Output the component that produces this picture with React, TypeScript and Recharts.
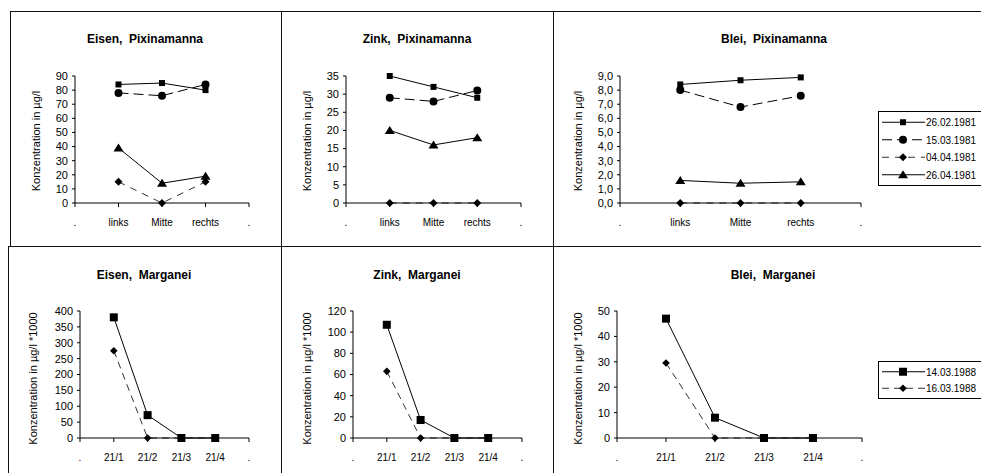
import React from 'react';
import { LineChart, Line, XAxis, YAxis, Legend } from 'recharts';

const topCategories = ['.', 'links', 'Mitte', 'rechts', '.'];
const topDates = ['26.02.1981', '15.03.1981', '04.04.1981', '26.04.1981'];
const eisenPixinamanna = [[84, 85, 80], [78, 76, 84], [15, 0, 15], [39, 14, 19]];
const zinkPixinamanna = [[35, 32, 29], [29, 28, 31], [0, 0, 0], [20, 16, 18]];
const bleiPixinamanna = [[8.4, 8.7, 8.9], [8.0, 6.8, 7.6], [0, 0, 0], [1.6, 1.4, 1.5]];

const bottomCategories = ['.', '21/1', '21/2', '21/3', '21/4', '.'];
const bottomDates = ['14.03.1988', '16.03.1988'];
const eisenMarganei = [[380, 72, 0, 0], [275, 0, 0, 0]];
const zinkMarganei = [[107, 17, 0, 0], [63, 0, 0, 0]];
const bleiMarganei = [[47, 8, 0, 0], [29.5, 0, 0, 0]];

type Style = { shape: string; size: number; dash?: string; stroke: string };

const topStyles: Style[] = [
  { shape: 'square', size: 6, stroke: '#000' },
  { shape: 'circle', size: 4, dash: '10 5', stroke: '#000' },
  { shape: 'diamond', size: 4, dash: '7 6', stroke: '#333' },
  { shape: 'triangle', size: 5, stroke: '#000' },
];
const bottomStyles: Style[] = [
  { shape: 'square', size: 8, stroke: '#000' },
  { shape: 'diamond', size: 3.8, dash: '7 5', stroke: '#333' },
];

const FONT = '"Liberation Sans", Arial, sans-serif';

function drawMarker(shape: string, size: number, cx: number, cy: number, key?: any) {
  if (shape === 'square') {
    return <rect key={key} x={cx - size / 2} y={cy - size / 2} width={size} height={size} fill="#000" />;
  }
  if (shape === 'circle') {
    return <circle key={key} cx={cx} cy={cy} r={size} fill="#000" />;
  }
  if (shape === 'diamond') {
    return (
      <polygon key={key} points={`${cx},${cy - size} ${cx + size},${cy} ${cx},${cy + size} ${cx - size},${cy}`} fill="#000" />
    );
  }
  return (
    <polygon key={key} points={`${cx},${cy - size * 0.9} ${cx + size},${cy + size * 0.7} ${cx - size},${cy + size * 0.7}`} fill="#000" />
  );
}

const makeDot = (st: Style) => (props: any) => {
  const { cx, cy, index, value } = props;
  if (cx == null || cy == null || value == null) return <g key={`e-${index}`} />;
  return drawMarker(st.shape, st.size, cx, cy, `d-${index}`);
};

function buildRows(categories: string[], values: number[][]) {
  return categories.map((c, i) => {
    const row: any = { key: String(i) };
    values.forEach((vals, s) => {
      row['s' + s] = i === 0 || i === categories.length - 1 ? null : vals[i - 1];
    });
    return row;
  });
}

function LegendBox({ dates, styles, rowH }: { dates: string[]; styles: Style[]; rowH: number }) {
  const h = dates.length * rowH + 4;
  return (
    <svg width={120} height={h + 2} style={{ display: 'block' }}>
      <rect x={0.5} y={0.5} width={118} height={h} fill="#fff" stroke="#000" />
      {dates.map((d, i) => {
        const y = 2 + rowH * i + rowH / 2 + 0.5;
        const st = styles[i];
        return (
          <g key={d}>
            <line x1={4} x2={47} y1={y} y2={y} stroke={st.stroke} strokeDasharray={st.dash} />
            {drawMarker(st.shape, st.shape === 'square' && st.size > 6 ? 8 : st.size, 25, y)}
            <text x={48} y={y + 4} fontSize={10} fill="#000" fontFamily={FONT}>{d}</text>
          </g>
        );
      })}
    </svg>
  );
}

interface PanelProps {
  title: string;
  titleX: number;
  titleY: number;
  categories: string[];
  dates: string[];
  values: number[][];
  styles: Style[];
  axisX: number;
  right: number;
  plotTop: number;
  plotBottom: number;
  max: number;
  step: number;
  yLabel: string;
  labelX: number;
  labelDy: number;
  fmt?: (v: number) => string;
  legend?: { x: number; y: number; rowH: number };
}

function Panel(p: PanelProps) {
  const left = p.axisX - 60;
  const top = p.plotTop - 10;
  const plotW = p.right - p.axisX;
  const width = p.legend ? 1000 - left : plotW + 70;
  const height = p.plotBottom - p.plotTop + 40;
  const rows = buildRows(p.categories, p.values);
  const ticks: number[] = [];
  for (let v = 0; v <= p.max + 1e-9; v += p.step) ticks.push(Math.round(v * 10) / 10);

  return (
    <>
      <div
        style={{
          position: 'absolute',
          left: p.titleX - 120,
          width: 240,
          top: p.titleY - 8,
          textAlign: 'center',
          fontWeight: 'bold',
          fontSize: 12,
          lineHeight: '16px',
          whiteSpace: 'pre',
        }}
      >
        {p.title}
      </div>
      <div style={{ position: 'absolute', left, top }}>
        <LineChart
          width={width}
          height={height}
          data={rows}
          margin={{ top: 10, right: width - 60 - plotW, bottom: 0, left: 0 }}
        >
          <XAxis
            dataKey="key"
            height={30}
            interval={0}
            tickFormatter={(v: string) => p.categories[Number(v)]}
            tick={{ fontSize: 10, fill: '#000' }}
            tickSize={4}
            tickMargin={12}
            axisLine={{ stroke: '#000' }}
            tickLine={{ stroke: '#000' }}
          />
          <YAxis
            width={60}
            domain={[0, p.max]}
            ticks={ticks}
            interval={0}
            tickFormatter={p.fmt}
            tick={{ fontSize: 11, fill: '#000' }}
            tickSize={3}
            tickMargin={4}
            axisLine={{ stroke: '#000' }}
            tickLine={{ stroke: '#000' }}
            label={(lp: any) => {
              const vb = lp.viewBox || {};
              const cx = p.labelX - left;
              const cy = (vb.y ?? 10) + (vb.height ?? 0) / 2 + p.labelDy;
              return (
                <text
                  x={cx}
                  y={cy}
                  transform={`rotate(-90 ${cx} ${cy})`}
                  textAnchor="middle"
                  dominantBaseline="central"
                  fontSize={11}
                  fill="#000"
                >
                  {p.yLabel}
                </text>
              );
            }}
          />
          {p.dates.map((d, i) => (
            <Line
              key={d}
              name={d}
              type="linear"
              dataKey={'s' + i}
              stroke={p.styles[i].stroke}
              strokeWidth={1}
              strokeDasharray={p.styles[i].dash}
              dot={makeDot(p.styles[i])}
              activeDot={false}
              isAnimationActive={false}
            />
          ))}
          {p.legend && (
            <Legend
              layout="horizontal"
              verticalAlign="middle"
              align="center"
              wrapperStyle={{ left: p.legend.x - left, top: p.legend.y - top, width: 120, right: 'auto', bottom: 'auto' }}
              content={() => <LegendBox dates={p.dates} styles={p.styles} rowH={p.legend!.rowH} />}
            />
          )}
        </LineChart>
      </div>
    </>
  );
}

const commaFmt = (v: number) => v.toFixed(1).replace('.', ',');

function Border({ x, y, w, h }: { x: number; y: number; w: number; h: number }) {
  return <div style={{ position: 'absolute', left: x, top: y, width: w, height: h, background: '#111' }} />;
}

export default function App() {
  const topLabel = 'Konzentration in µg/l';
  const bottomLabel = 'Konzentration in µg/l *1000';
  return (
    <div
      style={{
        position: 'absolute',
        left: 0,
        top: 0,
        width: 981,
        height: 473,
        overflow: 'hidden',
        background: '#fff',
        fontFamily: FONT,
        color: '#000',
      }}
    >
      <Border x={10} y={11} w={971} h={1} />
      <Border x={8} y={246} w={973} h={1} />
      <Border x={10} y={11} w={1} h={235} />
      <Border x={8} y={246} w={1} h={227} />
      <Border x={281} y={11} w={1} h={462} />
      <Border x={553} y={11} w={1} h={462} />

      <Panel
        title="Eisen,  Pixinamanna"
        titleX={145}
        titleY={39}
        categories={topCategories}
        dates={topDates}
        values={eisenPixinamanna}
        styles={topStyles}
        axisX={75}
        right={249}
        plotTop={76}
        plotBottom={203}
        max={90}
        step={10}
        yLabel={topLabel}
        labelX={36}
        labelDy={1.5}
      />
      <Panel
        title="Zink,  Pixinamanna"
        titleX={417}
        titleY={39}
        categories={topCategories}
        dates={topDates}
        values={zinkPixinamanna}
        styles={topStyles}
        axisX={346}
        right={521}
        plotTop={76}
        plotBottom={203}
        max={35}
        step={5}
        yLabel={topLabel}
        labelX={307}
        labelDy={1.5}
      />
      <Panel
        title="Blei,  Pixinamanna"
        titleX={774}
        titleY={39}
        categories={topCategories}
        dates={topDates}
        values={bleiPixinamanna}
        styles={topStyles}
        axisX={620}
        right={861}
        plotTop={76}
        plotBottom={203}
        max={9}
        step={1}
        yLabel={topLabel}
        labelX={578}
        labelDy={1.5}
        fmt={commaFmt}
        legend={{ x: 878, y: 111, rowH: 17.5 }}
      />
      <Panel
        title="Eisen,  Marganei"
        titleX={144}
        titleY={275}
        categories={bottomCategories}
        dates={bottomDates}
        values={eisenMarganei}
        styles={bottomStyles}
        axisX={80}
        right={249}
        plotTop={311}
        plotBottom={438}
        max={400}
        step={50}
        yLabel={bottomLabel}
        labelX={33}
        labelDy={4}
      />
      <Panel
        title="Zink,  Marganei"
        titleX={417}
        titleY={275}
        categories={bottomCategories}
        dates={bottomDates}
        values={zinkMarganei}
        styles={bottomStyles}
        axisX={353}
        right={522}
        plotTop={311}
        plotBottom={438}
        max={120}
        step={20}
        yLabel={bottomLabel}
        labelX={307}
        labelDy={4}
      />
      <Panel
        title="Blei,  Marganei"
        titleX={773}
        titleY={275}
        categories={bottomCategories}
        dates={bottomDates}
        values={bleiMarganei}
        styles={bottomStyles}
        axisX={617}
        right={862}
        plotTop={311}
        plotBottom={438}
        max={50}
        step={10}
        yLabel={bottomLabel}
        labelX={578}
        labelDy={4}
        legend={{ x: 878, y: 361, rowH: 16.5 }}
      />
    </div>
  );
}
